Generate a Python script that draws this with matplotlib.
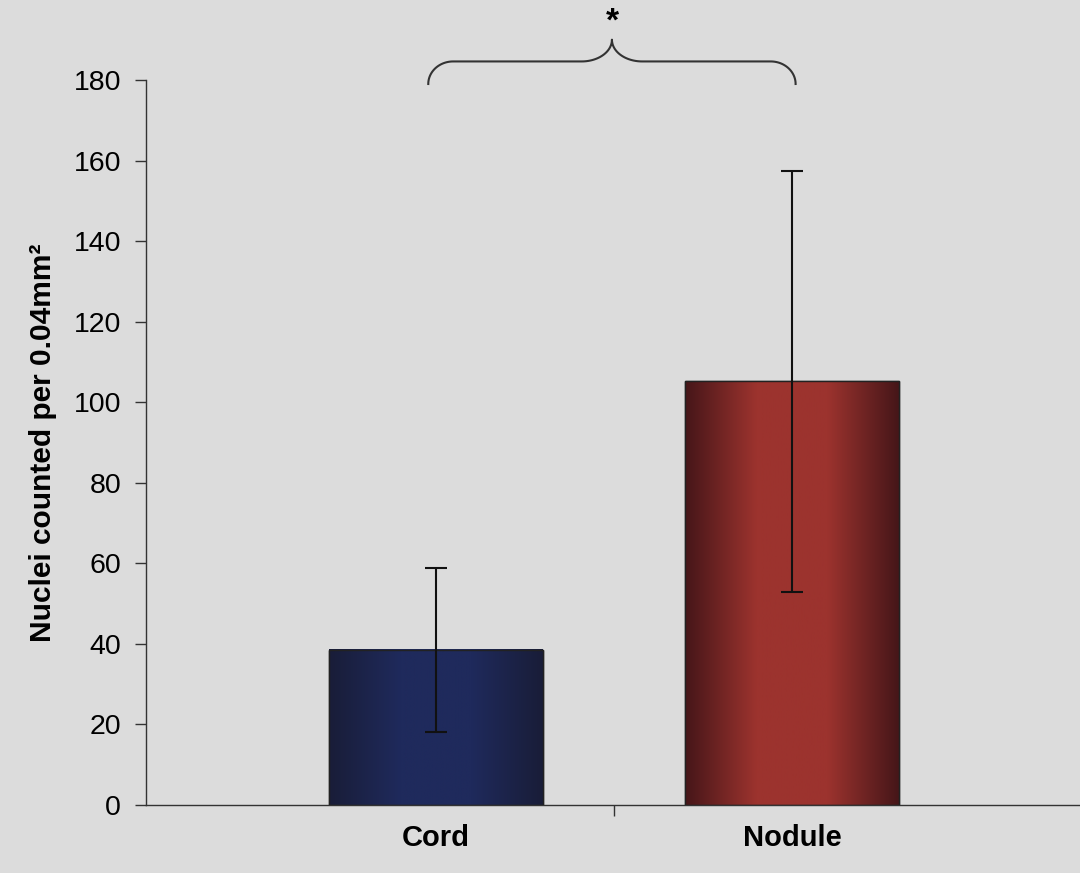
import matplotlib.pyplot as plt
import numpy as np
from matplotlib.colors import LinearSegmentedColormap

plt.rcParams['font.family'] = ['Liberation Sans', 'DejaVu Sans']

categories = ['Cord', 'Nodule']
means = [38.5, 105.2]
errors = [20.3, 52.2]
edge_colors = ['#191d38', '#461619']
mid_colors = ['#1f2a5c', '#9c332e']

bg = '#dcdcdc'
fig = plt.figure(figsize=(10.8, 8.73), dpi=100, facecolor=bg)
ax = fig.add_axes([0.1352, 0.0779, 0.8648, 0.8305], facecolor=bg)

x = np.arange(len(categories))
bars = ax.bar(x, means, width=0.6, color=mid_colors, edgecolor='#222222', linewidth=1, zorder=2)

# horizontal gradient (dark edges, lighter middle) on each bar
for b, c0, c1 in zip(bars, edge_colors, mid_colors):
    cmap = LinearSegmentedColormap.from_list('g', [c0, c1, c1, c0])
    grad = np.linspace(0, 1, 256).reshape(1, -1)
    ax.imshow(grad, cmap=cmap, aspect='auto', zorder=2.5,
              extent=[b.get_x(), b.get_x() + b.get_width(), 0, b.get_height()])
    ax.add_patch(plt.Rectangle((b.get_x(), 0), b.get_width(), b.get_height(),
                               fill=False, edgecolor='#222222', linewidth=1, zorder=3))

ax.errorbar(x, means, yerr=errors, fmt='none', ecolor='#111111',
            elinewidth=1.5, capsize=8, capthick=1.5, zorder=4)

ax.set_xlim(-0.815, 1.809)
ax.set_ylim(0, 180)
ax.set_yticks(np.arange(0, 181, 20))
ax.set_xticks(x)
ax.set_xticklabels(categories, fontsize=21, fontweight='bold')
ax.tick_params(axis='x', length=0, pad=14)
ax.set_xticks([0.5], minor=True)
ax.tick_params(axis='x', which='minor', length=8, width=1, color='#333333', direction='out')
ax.tick_params(axis='y', length=8, width=1, color='#333333', labelsize=20.5, pad=10)
ax.set_ylabel('Nuclei counted per 0.04mm²', fontsize=21.5, fontweight='bold', labelpad=12)

for s in ['top', 'right']:
    ax.spines[s].set_visible(False)
for s in ['left', 'bottom']:
    ax.spines[s].set_color('#333333')
    ax.spines[s].set_linewidth(1)

# significance brace above the two bars
xl, xr = -0.022, 1.01
xm = (xl + xr) / 2
yb, yh, yt = 179, 184.6, 190
d = 0.085
ang = np.linspace(0, np.pi / 2, 30)
# left end: vertical at xl rising into horizontal
ex = xl + 0.07 * (1 - np.cos(ang))
ey = yb + (yh - yb) * np.sin(ang)
# left half of cusp: horizontal rising into the point
cx = xm - d + d * np.sin(ang)
cy = yt - (yt - yh) * np.cos(ang)
lx = np.concatenate([ex, cx])
ly = np.concatenate([ey, cy])
bx = np.concatenate([lx, (2 * xm - lx)[::-1]])
by = np.concatenate([ly, ly[::-1]])
ax.plot(bx, by, color='#333333', linewidth=1.5, clip_on=False)
ax.text(xm, yt + 0.5, '*', ha='center', va='bottom', fontsize=24, fontweight='bold', clip_on=False)

fig.savefig('out.png', dpi=100, facecolor=bg)
